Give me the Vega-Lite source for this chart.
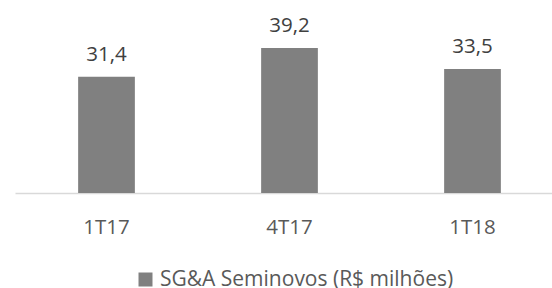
{
  "$schema": "https://vega.github.io/schema/vega-lite/v6.json",
  "width": 549,
  "height": 185,
  "padding": {"left": 15, "top": 8, "right": 0, "bottom": 0},
  "autosize": {"type": "pad"},
  "config": {
    "view": {"stroke": null},
    "font": "Open Sans",
    "locale": {"number": {"decimal": ",", "thousands": ".", "grouping": [3], "currency": ["R$", ""]}}
  },
  "data": {
    "values": [
      {"periodo": "1T17", "valor": 31.4, "serie": "SG&A Seminovos (R$ milhões)"},
      {"periodo": "4T17", "valor": 39.2, "serie": "SG&A Seminovos (R$ milhões)"},
      {"periodo": "1T18", "valor": 33.5, "serie": "SG&A Seminovos (R$ milhões)"}
    ]
  },
  "encoding": {
    "x": {
      "field": "periodo", "type": "nominal", "sort": null,
      "scale": {"paddingInner": 0.69, "paddingOuter": 0.345},
      "axis": {
        "title": null, "labelAngle": 0, "ticks": false, "tickSize": 0,
        "domainColor": "#d9d9d9", "domainWidth": 1.3,
        "labelFont": "Open Sans", "labelFontSize": 20.5, "labelColor": "#595959",
        "labelBaseline": "alphabetic", "labelPadding": 40
      }
    },
    "y": {
      "field": "valor", "type": "quantitative",
      "scale": {"domain": [0, 50]},
      "axis": null
    }
  },
  "layer": [
    {
      "mark": {"type": "bar", "color": "#808080"},
      "encoding": {
        "color": {
          "field": "serie", "type": "nominal",
          "scale": {"range": ["#808080"]},
          "legend": {
            "title": null, "orient": "none", "legendX": 120, "legendY": 261,
            "symbolType": "square", "symbolSize": 196, "symbolStrokeWidth": 0,
            "labelFont": "Open Sans", "labelFontSize": 21, "labelColor": "#595959",
            "symbolOffset": 0, "padding": 0, "labelOffset": 4, "labelLimit": 400
          }
        }
      }
    },
    {
      "mark": {"type": "text", "baseline": "alphabetic", "dy": -16, "fontSize": 20.5, "font": "Open Sans", "color": "#404040"},
      "encoding": {
        "text": {"field": "valor", "type": "quantitative", "format": ".1f"}
      }
    }
  ]
}
